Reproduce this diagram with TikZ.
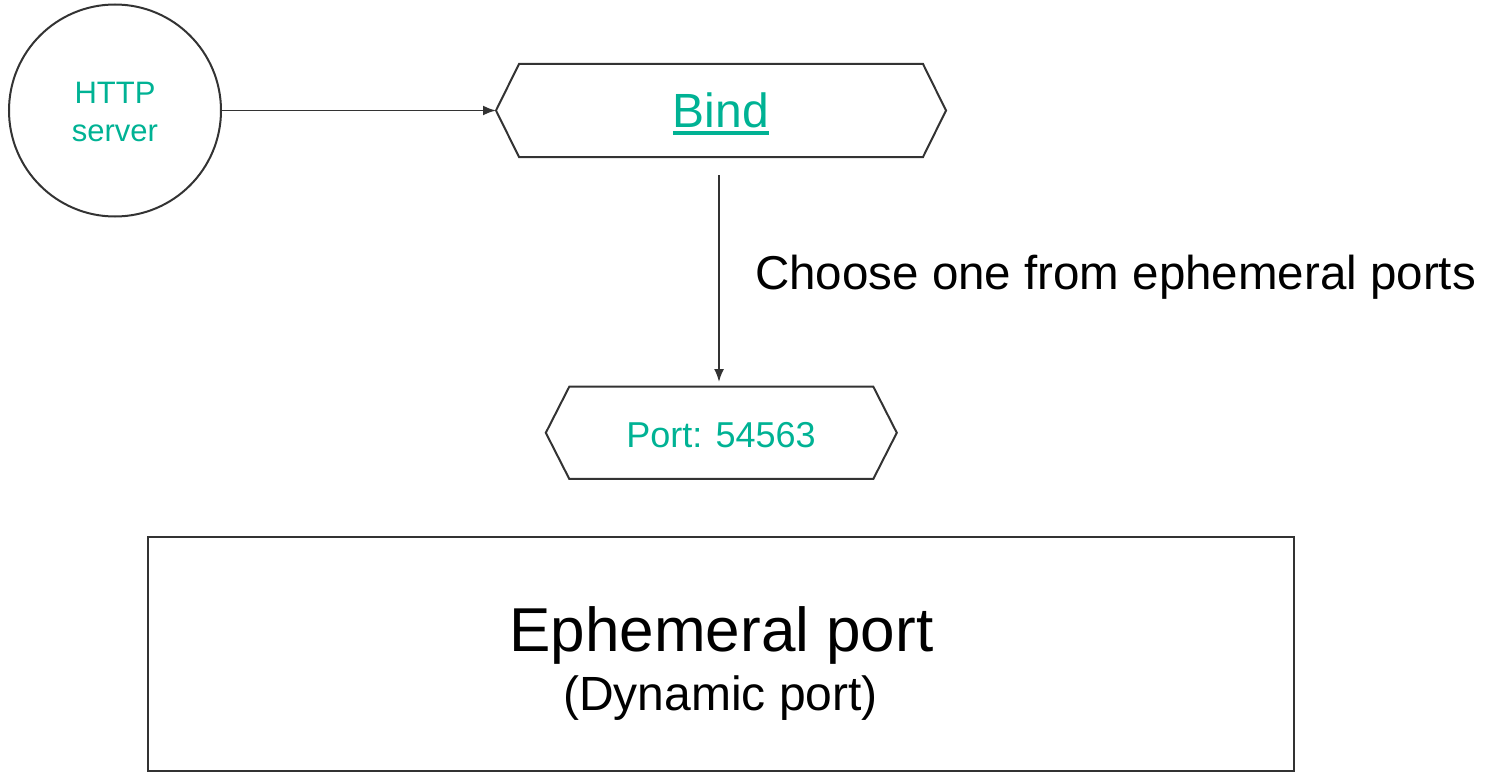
\documentclass[tikz,border=0pt]{standalone}
\usepackage{fontspec}
\setmainfont{Liberation Sans}
\usetikzlibrary{arrows.meta}
\definecolor{accent}{RGB}{0,178,148}
\definecolor{ink}{RGB}{51,51,51}
\begin{document}
\begin{tikzpicture}[x=1pt,y=-1pt,
  outline/.style={draw=ink,line width=2pt},
  hexbox/.style={draw=none,inner sep=0pt,outer sep=0pt},
  flow/.style={draw=ink,line width=1.8pt,-{Latex[length=13pt,width=10pt]}},
  greentext/.style={text=accent,inner sep=0pt,align=center}]
\useasboundingbox (0,0) rectangle (1493,773);

% HTTP server
\node[circle,outline,minimum size=212pt,inner sep=0pt] (srv) at (115,110.5) {};
\node[greentext,font=\fontsize{31}{38}\selectfont] (srvtxt) at (115,112) {HTTP\\server};

% Bind step (hexagon)
\node[hexbox,minimum width=404pt,minimum height=93pt] (bind) at (721,110.5) {};
\draw[outline] (bind.north west) -- (bind.north east) -- ([xshift=23pt]bind.east)
  -- (bind.south east) -- (bind.south west) -- ([xshift=-23pt]bind.west) -- cycle;
\coordinate (bindtip) at ([xshift=-23pt]bind.west);
\node[greentext,font=\fontsize{48}{58}\selectfont,anchor=base] (bindtxt) at (721,127.3) {Bind};
\draw[accent,line width=4pt] ([yshift=-6pt]bindtxt.base west) -- ([yshift=-6pt]bindtxt.base east);

% Port step (hexagon)
\node[hexbox,minimum width=304pt,minimum height=92.3pt] (port) at (721.3,432.8) {};
\draw[outline] (port.north west) -- (port.north east) -- ([xshift=23.5pt]port.east)
  -- (port.south east) -- (port.south west) -- ([xshift=-23.5pt]port.west) -- cycle;
\node[greentext,font=\fontsize{36}{44}\selectfont,anchor=base] (porttxt) at (721,447.3) {Port: 54563};

% Connectors
\draw[flow] (srv.east) -- (bindtip);
\coordinate (dstart) at (719,175);
\coordinate (dend) at (719,382);
\draw[flow] (dstart) -- (dend);
\node[anchor=base west,inner sep=0pt,font=\fontsize{47.5}{56}\selectfont] (choose) at (755,289)
  {Choose one from ephemeral ports};

% Ephemeral port range
\node[draw=ink,line width=1.5pt,minimum width=1146pt,minimum height=234pt,inner sep=0pt] (range) at (721,654) {};
\node[anchor=base,inner sep=0pt,font=\fontsize{62}{72}\selectfont] (eph) at (721.5,651) {Ephemeral port};
\node[anchor=base,inner sep=0pt,font=\fontsize{48}{56}\selectfont] (dyn) at (720.5,710) {(Dynamic port)};
\end{tikzpicture}
\end{document}
